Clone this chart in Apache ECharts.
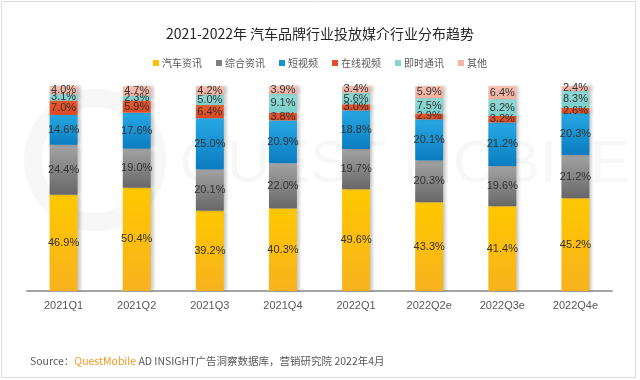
<!DOCTYPE html>
<html><head><meta charset="utf-8">
<script src="https://cdn.jsdelivr.net/npm/echarts@6/dist/echarts.min.js"></script>
<style>html,body{margin:0;padding:0;background:#fff}#c{width:640px;height:380px}</style>
</head><body><div id="c"></div>
<script>
const categories = ['2021Q1','2021Q2','2021Q3','2021Q4','2022Q1','2022Q2e','2022Q3e','2022Q4e'];
const seriesNames = ['汽车资讯','综合资讯','短视频','在线视频','即时通讯','其他'];
const autoNews = [46.9, 50.4, 39.2, 40.3, 49.6, 43.3, 41.4, 45.2];
const generalNews = [24.4, 19.0, 20.1, 22.0, 19.7, 20.3, 19.6, 21.2];
const shortVideo = [14.6, 17.6, 25.0, 20.9, 18.8, 20.1, 21.2, 20.3];
const onlineVideo = [7.0, 5.9, 6.4, 3.8, 3.0, 2.9, 3.2, 2.6];
const instantMsg = [3.1, 2.3, 5.0, 9.1, 5.6, 7.5, 8.2, 8.3];
const others = [4.0, 4.7, 4.2, 3.9, 3.4, 5.9, 6.4, 2.4];
const allData = [autoNews, generalNews, shortVideo, onlineVideo, instantMsg, others];

function grad(a, b) {
  return new echarts.graphic.LinearGradient(0, 0, 0, 1, [{offset: 0, color: a}, {offset: 1, color: b}]);
}
const fills = [
  grad('#FFC800', '#F8B21E'),
  grad('#A3A3A3', '#676767'),
  grad('#27A8E3', '#0B7CC0'),
  grad('#EA5A30', '#DC4722'),
  grad('#94DAD6', '#7ACFCB'),
  grad('#F7C0B2', '#F2AE9E')
];
const legendColors = ['#FFC000', '#7F7F7F', '#1593D2', '#E4502A', '#86D4D0', '#F5B5A6'];

const chart = echarts.init(document.getElementById('c'), null, {renderer: 'canvas'});
const series = seriesNames.map((name, i) => ({
  name: name,
  type: 'bar',
  stack: 'total',
  barWidth: 28,
  data: allData[i],
  itemStyle: {
    color: fills[i],
    shadowColor: 'rgba(0,0,0,0.22)',
    shadowBlur: 3,
    shadowOffsetX: 3,
    shadowOffsetY: 0
  },
  label: {
    show: true,
    position: 'inside',
    formatter: p => p.value.toFixed(1) + '%',
    color: '#333',
    fontSize: 11,
    fontFamily: 'Liberation Sans, Arial, sans-serif'
  }
}));

chart.setOption({
  animation: false,
  backgroundColor: '#fff',
  color: legendColors,
  title: {
    text: '2021-2022年 汽车品牌行业投放媒介行业分布趋势',
    left: 'center',
    top: 22,
    textStyle: {fontSize: 14, fontWeight: 'normal', color: '#262626', fontFamily: 'Noto Sans CJK SC, sans-serif'}
  },
  legend: {
    top: 53,
    left: 'center',
    itemWidth: 6,
    itemHeight: 6,
    itemGap: 14,
    icon: 'rect',
    textStyle: {fontSize: 10, color: '#595959', fontFamily: 'Noto Sans CJK SC, sans-serif', padding: [0,0,0,-2]},
    data: seriesNames.map((n, i) => ({name: n, itemStyle: {color: legendColors[i]}}))
  },
  grid: {left: 27, right: 28, top: 86, bottom: 89, containLabel: false},
  xAxis: {
    type: 'category',
    data: categories,
    axisLine: {lineStyle: {color: '#A6A6A6', width: 2}},
    axisTick: {show: false},
    axisLabel: {color: '#595959', fontSize: 11, margin: 9, fontFamily: 'Liberation Sans, Arial, sans-serif'}
  },
  yAxis: {
    type: 'value', min: 0, max: 100, show: false, splitLine: {show: false}
  },
  graphic: [
    {type: 'rect', shape: {x: 1.5, y: 1.5, width: 634, height: 376}, style: {fill: 'none', stroke: '#DDDDDD', lineWidth: 1}, silent: true, z: -1},
    {type: 'circle', shape: {cx: 95, cy: 160, r: 62}, style: {fill: 'none', stroke: 'rgba(0,0,0,0.03)', lineWidth: 18}, silent: true, z: -2},
    {type: 'text', left: 180, top: 135, silent: true, z: -2, style: {
      text: 'QUEST MOBILE', fontSize: 60, fontFamily: 'Liberation Sans, Arial, sans-serif', fill: 'rgba(0,0,0,0.03)'
    }},
    {type: 'text', left: 30, top: 356, style: {
      text: '{a|Source：}{b|QuestMobile}{a| AD INSIGHT广告洞察数据库，营销研究院 2022年4月}',
      rich: {
        a: {fontSize: 10.5, fill: '#595959', fontFamily: 'Noto Sans CJK SC, sans-serif'},
        b: {fontSize: 10.5, fill: '#F39A1E', fontFamily: 'Noto Sans CJK SC, sans-serif'}
      }
    }}
  ],
  series: series
});
</script></body></html>
